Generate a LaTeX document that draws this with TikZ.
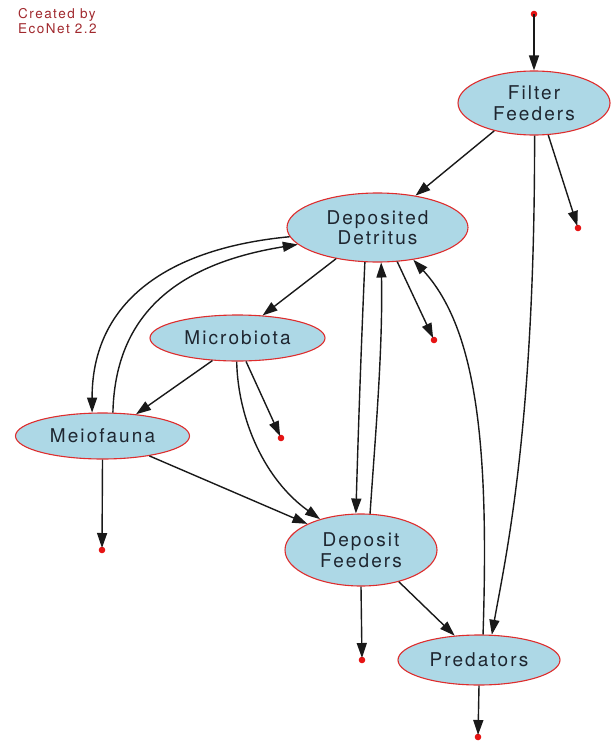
\documentclass[tikz,border=0pt]{standalone}
\usepackage{fontspec}
\setmainfont{TeX Gyre Heros}[LetterSpace=11]
\usetikzlibrary{shapes.geometric,arrows.meta}
\definecolor{nodefill}{RGB}{173,216,230}
\definecolor{nodeline}{RGB}{222,45,45}
\definecolor{textc}{RGB}{30,38,48}
\definecolor{credc}{RGB}{160,40,45}
\definecolor{dotc}{RGB}{230,20,20}
\tikzset{
  comp/.style={ellipse, draw=nodeline, line width=1.1pt, fill=nodefill, inner sep=0pt,
    text=textc, align=center, font=\fontsize{19}{20.5}\selectfont},
  flow/.style={line width=1.4pt, draw=black!90, -{Triangle[length=15pt,width=10pt]}},
  todot/.style={flow, shorten >=2pt},
}
\begin{document}
\begin{tikzpicture}[x=1pt,y=-1pt]
\useasboundingbox (0,0) rectangle (611,747);
\node[anchor=north west, text=credc, align=left, inner sep=0pt,
  font=\fontsize{13.5}{15.5}\selectfont] (cred) at (18,8) {Created by\\EcoNet 2.2};

\node[comp, minimum width=152pt, minimum height=64pt] (ff) at (534,103) {Filter\\Feeders};
\node[comp, minimum width=181pt, minimum height=69pt] (dd) at (377.5,227.5) {Deposited\\Detritus};
\node[comp, minimum width=175pt, minimum height=46pt] (mi) at (237.5,338) {Microbiota};
\node[comp, minimum width=174pt, minimum height=46pt] (me) at (102.5,436) {Meiofauna};
\node[comp, minimum width=152pt, minimum height=72pt] (df) at (361,550) {Deposit\\Feeders};
\node[comp, minimum width=162pt, minimum height=50pt] (pr) at (479,660) {Predators};

\coordinate (in) at (534,14);
\coordinate (ffo) at (578,228);
\coordinate (ddo) at (434,340);
\coordinate (mio) at (281,438);
\coordinate (meo) at (102,550);
\coordinate (dfo) at (362,660);
\coordinate (pro) at (478,737);
\foreach \p in {in,ffo,ddo,mio,meo,dfo,pro} \fill[dotc] (\p) circle (3.3pt);

\draw[flow] (in) -- (ff.north);
\draw[flow] (ff.215) -- (dd.40);
\draw[todot] (ff.294) -- (ffo);
\draw[flow] (ff.271) .. controls (535,430) and (505,560) .. (pr.63);
\draw[flow] (dd.217) -- (mi.42);
\draw[flow] (dd.186) .. controls (170,248) and (92,300) .. (me.114);
\draw[flow] (me.66) .. controls (115,320) and (170,265) .. (dd.192);
\draw[flow] (dd.250) .. controls (361,350) and (358,440) .. (df.98);
\draw[flow] (df.76) .. controls (375,440) and (383,350) .. (dd.276);
\draw[todot] (dd.300) -- (ddo);
\draw[flow] (pr.81) .. controls (489,450) and (478,330) .. (dd.318);
\draw[flow] (mi.222) -- (me.33);
\draw[flow] (mi.268) .. controls (238,420) and (265,480) .. (df.143);
\draw[todot] (mi.290) -- (mio);
\draw[todot] (me.270) -- (meo);
\draw[flow] (me.337) -- (df.154);
\draw[todot] (df.270) -- (dfo);
\draw[flow] (df.320) -- (pr.135);
\draw[todot] (pr.270) -- (pro);
\end{tikzpicture}
\end{document}
